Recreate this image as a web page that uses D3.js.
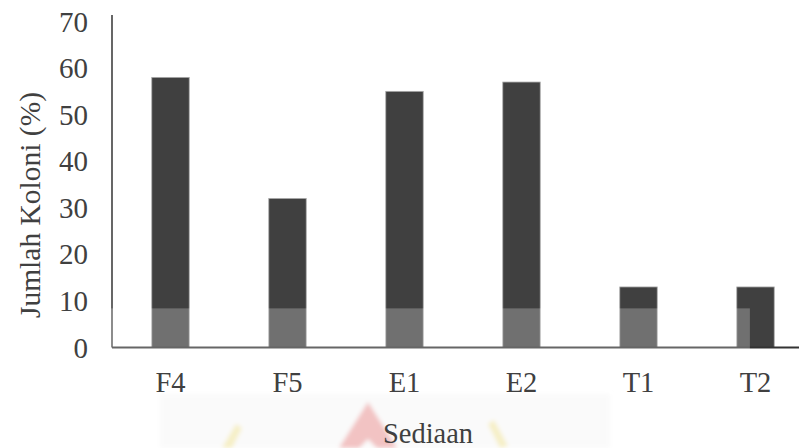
<!DOCTYPE html>
<html>
<head>
<meta charset="utf-8">
<script src="https://cdn.jsdelivr.net/npm/d3@7"></script>
<style>
  html, body { margin: 0; padding: 0; background: #ffffff; }
  svg { display: block; }
  text { font-family: "Liberation Serif", "Times New Roman", serif; fill: #404040; }
</style>
</head>
<body>
<svg id="chart" width="799" height="448"></svg>
<script>
// Colony count per preparation
const categories = ["F4", "F5", "E1", "E2", "T1", "T2"];
const values = [58, 32, 55, 57, 13, 13];
const yTicks = [0, 10, 20, 30, 40, 50, 60, 70];
const yTitle = "Jumlah Koloni (%)";
const xTitle = "Sediaan";
// lighter wash across the lower part of the plot
const washLevel = 8.4;

const svg = d3.select("#chart");
const W = 799, H = 448;
const plotLeft = 112, plotBottom = 347.5, plotTop = 21.5;

const x = d3.scaleBand()
  .domain(categories)
  .range([plotLeft, plotLeft + 117 * categories.length])
  .paddingInner(0.68)
  .paddingOuter(0.34);

const y = d3.scaleLinear().domain([0, 70]).range([plotBottom, plotTop]);

// soft blur for the background emblem
svg.append("defs").append("filter")
  .attr("id", "soft")
  .append("feGaussianBlur").attr("stdDeviation", 2);

// faint emblem behind the axis title
const emblem = svg.append("g").attr("class", "emblem").attr("filter", "url(#soft)");
emblem.append("rect")
  .attr("x", 160).attr("y", 394).attr("width", 450).attr("height", 54)
  .attr("fill", "#fafafa");
emblem.append("path")
  .attr("d", "M368,402 L397,448 L377,448 L368,439 L359,448 L339,448 Z")
  .attr("fill", "#f2c3c3");
emblem.append("path")
  .attr("d", "M236,424 L242,428 L232,448 L222,448 Z")
  .attr("fill", "#f6efc6");
emblem.append("path")
  .attr("d", "M488,424 L494,420 L508,446 L500,448 Z")
  .attr("fill", "#f6efc6");

// bars
svg.append("g").selectAll("rect")
  .data(categories.map((c, i) => ({ c, v: values[i] })))
  .join("rect")
  .attr("x", d => x(d.c))
  .attr("y", d => y(d.v))
  .attr("width", x.bandwidth())
  .attr("height", d => y(0) - y(d.v))
  .attr("fill", "#404040")
  .attr("stroke", "#a8a8a8")
  .attr("stroke-width", 0.8);

// y axis line
svg.append("line")
  .attr("x1", plotLeft).attr("x2", plotLeft)
  .attr("y1", 15).attr("y2", plotBottom)
  .attr("stroke", "#000").attr("stroke-width", 1.2);

// x axis line
svg.append("line")
  .attr("x1", plotLeft).attr("x2", W)
  .attr("y1", plotBottom).attr("y2", plotBottom)
  .attr("stroke", "#333").attr("stroke-width", 2);

// wash over the lower band
svg.append("rect")
  .attr("x", plotLeft - 6)
  .attr("y", y(washLevel))
  .attr("width", x("T2") + x.bandwidth() * 0.35 - (plotLeft - 6))
  .attr("height", y(0) - y(washLevel) + 2)
  .attr("fill", "#ffffff")
  .attr("opacity", 0.25);

// y tick labels
svg.append("g").selectAll("text")
  .data(yTicks)
  .join("text")
  .attr("x", 88)
  .attr("y", d => y(d) + 10)
  .attr("text-anchor", "end")
  .attr("font-size", 29)
  .text(d => d);

// x tick labels
svg.append("g").selectAll("text")
  .data(categories)
  .join("text")
  .attr("x", d => x(d) + x.bandwidth() / 2)
  .attr("y", 392)
  .attr("text-anchor", "middle")
  .attr("font-size", 28.5)
  .text(d => d);

// axis titles
svg.append("text")
  .attr("transform", "translate(40,205) rotate(-90)")
  .attr("text-anchor", "middle")
  .attr("font-size", 29.5)
  .text(yTitle);

svg.append("text")
  .attr("x", 428).attr("y", 443)
  .attr("text-anchor", "middle")
  .attr("font-size", 28.5)
  .text(xTitle);
</script>
</body>
</html>
